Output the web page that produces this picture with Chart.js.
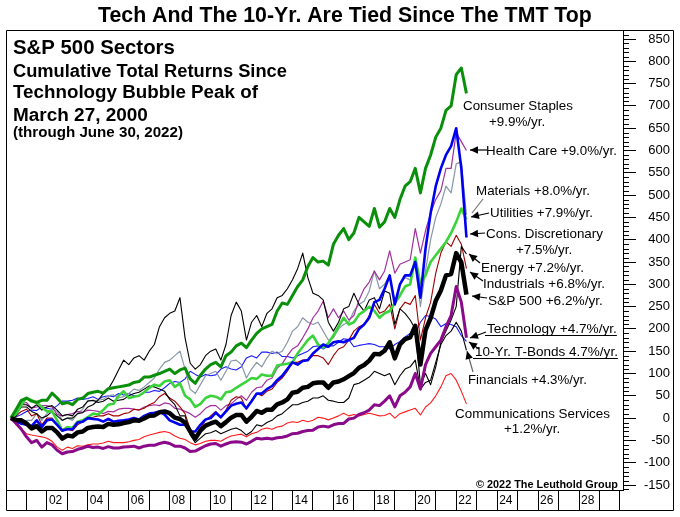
<!DOCTYPE html>
<html><head><meta charset="utf-8">
<script src="https://cdn.jsdelivr.net/npm/chart.js@4.4.1/dist/chart.umd.min.js"></script>
<style>html,body{margin:0;padding:0;background:#fff;}</style>
</head><body>
<canvas id="c" width="680" height="517"></canvas>
<script>
// ---------- DATA (cumulative total return %, quarterly, from 27 Mar 2000) ----------
const dates = [2000.24,2000.5,2000.75,
2001,2001.25,2001.5,2001.75, 2002,2002.25,2002.5,2002.75, 2003,2003.25,2003.5,2003.75,
2004,2004.25,2004.5,2004.75, 2005,2005.25,2005.5,2005.75, 2006,2006.25,2006.5,2006.75,
2007,2007.25,2007.5,2007.75, 2008,2008.25,2008.5,2008.75, 2009,2009.25,2009.5,2009.75,
2010,2010.25,2010.5,2010.75, 2011,2011.25,2011.5,2011.75, 2012,2012.25,2012.5,2012.75,
2013,2013.25,2013.5,2013.75, 2014,2014.25,2014.5,2014.75, 2015,2015.25,2015.5,2015.75,
2016,2016.25,2016.5,2016.75, 2017,2017.25,2017.5,2017.75, 2018,2018.25,2018.5,2018.75,
2019,2019.25,2019.5,2019.75, 2020,2020.25,2020.5,2020.75, 2021,2021.25,2021.5,2021.75,
2022,2022.25,2022.5];

const sp500 = [0,-4,-5, -12,-23,-18,-30, -22,-22,-32,-46, -39,-41,-32,-30, -22,-20,-19,-20, -13,-15,-14,-11,
-9,-5,-6,-1, 5,6,13,15, 11,1,-2,-10, -30,-46,-28,-17, -12,-8,-18,-9, 1,7,7,-8, 3,16,12,19,
19,31,35,42, 57,59,68,70, 78,80,80,68, 80,82,87,94, 101,113,119,129, 144,143,151,170,
134,165,177,181, 207,120,197,224, 263,286,320,323, 370,349,277];

const consumerStaples = [0,20,40, 45,38,35,40, 40,56,45,32, 35,30,42,45, 55,58,60,56, 66,68,70,72,
74,80,82,92, 92,96,100,105, 110,100,108,112, 88,78,96,110, 120,125,115,140, 148,162,168,158,
175,190,200,205, 210,240,258,255, 275,295,310,340, 360,350,352,343, 390,410,425,400,
415,450,440,430, 470,428,440,470, 450,490,520,530, 560,505,560,590, 630,650,690,700, 770,785,728];

const healthCare = [0,20,32, 35,22,25,28, 28,25,8,5, 8,10,15,13, 18,17,15,10, 15,14,20,22,
22,20,18,25, 28,30,28,34, 32,22,20,15, 10,2,10,22, 28,28,18,28, 32,42,50,40, 58,68,70,85,
90,112,122,140, 155,162,180,200, 225,240,262,225, 245,225,240,220, 230,265,290,305,
330,310,330,375, 325,345,350,355, 425,370,420,460, 490,510,560,560, 640,620,600];

const materials = [0,-5,-15, -5,-5,10,-5, 10,20,15,-5, 0,-5,10,20, 40,38,40,42, 50,52,45,48,
55,65,62,70, 80,90,110,125, 130,140,150,110, 65,55,75,95, 100,105,85,105, 128,130,120,90,
110,125,115,135, 150,145,150,170, 195,205,225,215, 210,215,195,175, 180,200,210,215,
240,255,262,285, 330,290,300,320, 260,300,315,310, 350,250,330,400, 450,480,520,505, 570,575,455];

const utilities = [0,10,30, 45,40,35,25, 15,15,-5,-28, -20,-22,-8,-5, 2,10,8,18, 30,32,50,60,
45,48,50,58, 68,75,72,82, 85,70,78,50, 42,25,32,45, 50,48,42,58, 60,68,75,82, 90,88,98,95,
95,118,120,122, 125,145,160,175, 185,165,158,168, 185,205,225,210, 215,232,240,250,
240,225,235,240, 258,275,295,300, 360,300,320,350, 365,380,395,415, 440,470,445];

const consDiscretionary = [0,-8,-12, -15,-18,-5,-20, -5,-3,-15,-28, -25,-25,-10,-8, 0,-2,-3,-8, -2,-8,-6,-5,
-3,0,-3,5, 10,12,15,8, -5,-10,-15,-15, -30,-30,-15,-3, 0,12,2,15, 28,32,35,22, 38,55,55,65,
72,85,95,110, 125,120,128,130, 145,155,165,160, 170,172,170,175, 180,200,210,225,
260,265,290,320, 255,300,320,320, 350,270,380,460, 520,560,590,610, 650,560,405];

const energy = [0,10,25, 25,15,10,0, 5,15,5,-5, 0,0,10,12, 25,30,40,55, 65,85,108,130,
120,135,140,130, 150,165,205,225, 235,240,270,180, 123,110,120,140, 150,155,130,165,
230,260,240,175, 215,230,205,235, 245,270,275,290, 310,335,370,315, 280,275,265,215,
195,215,245,250, 280,255,240,265, 270,245,285,280, 210,245,235,220, 200,75,100,75,
115,170,195,220, 250,385,368];

const industrials = [0,5,15, 20,5,10,-15, 0,0,-15,-30, -25,-28,-15,-8, 0,2,5,5, 10,5,5,10,
12,20,18,22, 30,35,48,55, 45,38,25,10, -25,-40,-22,-5, 5,15,0,18, 40,48,45,20, 40,55,50,60,
65,80,90,105, 125,125,130,130, 140,140,135,120, 140,155,160,175, 195,205,210,230,
255,235,240,255, 200,245,260,255, 275,175,225,260, 325,370,395,385, 410,390,335];

const technology = [0,-12,-25, -42,-55,-50,-65, -55,-60,-72,-80, -76,-75,-70,-67, -63,-66,-65,-68,
-64,-67,-67,-65, -64,-63,-67,-63, -61,-61,-57,-54, -57,-63,-63,-67, -75,-74,-68,-62,
-58,-57,-63,-58, -54,-53,-54,-58, -52,-45,-47,-45, -47,-44,-43,-40, -35,-34,-30,-28,
-27,-20,-18,-20, -15,-12,-12,-2, 0,8,12,18, 30,28,38,50, 25,50,58,70, 100,65,120,145,
160,175,205,230, 295,260,180];

const tBonds10yr = [0,3,8, 15,18,17,25, 22,20,28,38, 38,40,45,42, 44,48,42,48, 50,48,55,52,
55,50,50,58, 58,62,60,68, 78,82,80,88, 105,98,92,98, 95,97,110,115, 110,108,115,135,
140,135,148,148, 145,148,138,138, 135,140,145,150, 160,162,155,162, 162,170,178,176,
160,163,165,167, 165,160,160,155, 165,172,182,190, 190,215,230,228, 222,205,212,210, 205,185,172];

const financials = [0,5,30, 30,22,30,18, 25,28,18,5, 8,5,20,25, 38,40,35,38, 45,38,40,42,
50,55,58,65, 72,70,65,60, 42,30,5,5, -38,-55,-45,-35, -33,-28,-35,-30, -25,-22,-28,-38,
-30,-15,-18,-10, -5,5,10,20, 30,30,35,38, 45,45,50,40, 38,35,35,45, 75,78,85,92,
105,100,95,100, 75,95,110,115, 130,65,80,85, 125,165,185,195, 215,195,152];

const commServices = [0,-15,-25, -35,-38,-40,-42, -45,-52,-65,-72, -65,-68,-62,-63, -60,-58,-58,-56,
-52,-55,-55,-55, -53,-50,-48,-42, -38,-35,-32,-30, -33,-40,-45,-48, -55,-60,-57,-52,
-50,-50,-52,-45, -40,-38,-36,-42, -35,-32,-25,-22, -25,-20,-18,-11, -8,-10,-5,-8,
-5,2,0,-4, 0,5,11,5, 8,5,8,11, 8,5,6,11, 0,10,14,18, 22,7,25,34, 50,70,95,100, 85,60,32];

const xTickYears = [2000,2001,2002,2003,2004,2005,2006,2007,2008,2009,2010,2011,2012,2013,2014,2015,
2016,2017,2018,2019,2020,2021,2022,2023,2024,2025,2026,2027,2028,2029,2030];
const xLabelYears = [2002,2004,2006,2008,2010,2012,2014,2016,2018,2020,2022,2024,2026,2028];
const yTickValues = [-150,-100,-50,0,50,100,150,200,250,300,350,400,450,500,550,600,650,700,750,800,850];

const TITLE = 'Tech And The 10-Yr. Are Tied Since The TMT Top';

// ---------- STYLE ----------
const FONT = "'Liberation Sans', Arial, Helvetica, sans-serif";
const series = [
  {label:'S&P 500', data: sp500, color:'#000000', width:4.5},
  {label:'Technology', data: technology, color:'#8a0a8a', width:3},
  {label:'Consumer Staples', data: consumerStaples, color:'#0a8f0a', width:3},
  {label:'Cons. Discretionary', data: consDiscretionary, color:'#0000f0', width:2.6},
  {label:'Utilities', data: utilities, color:'#3ad33a', width:2.6},
  {label:'Financials', data: financials, color:'#000000', width:1.1},
  {label:'Energy', data: energy, color:'#000000', width:1.1},
  {label:'Industrials', data: industrials, color:'#a00000', width:1.1},
  {label:'Health Care', data: healthCare, color:'#a2309c', width:1.2},
  {label:'Materials', data: materials, color:'#8796a8', width:1.2},
  {label:'10-Yr. T-Bonds', data: tBonds10yr, color:'#1a1aff', width:1.1},
  {label:'Communications Services', data: commServices, color:'#ff1a1a', width:1.1},
];

const mctx = document.createElement('canvas').getContext('2d');
function fitSize(text, weight, width){
  mctx.font = weight + ' 100px ' + FONT;
  return 100 * width / mctx.measureText(text).width;
}

const notes = [
  {t:TITLE, x:98, y:22, w:494, b:'bold'},
  {t:'S&P 500 Sectors', x:13, y:53.5, w:162, b:'bold'},
  {t:'Cumulative Total Returns Since', x:13, y:76.5, w:274, b:'bold'},
  {t:'Technology Bubble Peak of', x:13, y:98, w:245, b:'bold'},
  {t:'March 27, 2000', x:13, y:120.5, w:135, b:'bold'},
  {t:'(through June 30, 2022)', x:13, y:137, w:170, b:'bold'},
  {t:'\u00a9 2022 The Leuthold Group', x:476, y:488, w:142, b:'bold'},
  {t:'Consumer Staples', x:463, y:110, w:110},
  {t:'+9.9%/yr.', x:489, y:126, s:13.4},
  {t:'Health Care +9.0%/yr.', x:486, y:155, w:131},
  {t:'Materials +8.0%/yr.', x:476, y:195, w:114},
  {t:'Utilities +7.9%/yr.', x:490, y:217, w:103},
  {t:'Cons. Discretionary', x:486, y:238, w:117},
  {t:'+7.5%/yr.', x:516, y:254, s:13.4},
  {t:'Energy +7.2%/yr.', x:481, y:272, w:103},
  {t:'Industrials +6.8%/yr.', x:483, y:288, w:122},
  {t:'S&P 500 +6.2%/yr.', x:488, y:305, w:115},
  {t:'Technology +4.7%/yr.', x:487, y:333, w:130, u:true},
  {t:'10-Yr. T-Bonds 4.7%/yr.', x:475, y:356, w:143, u:true},
  {t:'Financials +4.3%/yr.', x:468, y:384, w:119},
  {t:'Communications Services', x:455, y:418, w:155},
  {t:'+1.2%/yr.', x:504, y:433, s:13.4},
];
const pointers = [
  {x1:487,y1:150,x2:470,y2:150,c:'#000',h:true},
  {x1:483,y1:199,x2:472,y2:213,c:'#777',h:false},
  {x1:489,y1:213,x2:471,y2:217,c:'#000',h:true},
  {x1:485,y1:233,x2:470,y2:234,c:'#000',h:true},
  {x1:480,y1:263,x2:469,y2:254,c:'#000',h:true},
  {x1:483,y1:281,x2:470,y2:272,c:'#000',h:true},
  {x1:487,y1:298,x2:472,y2:296,c:'#000',h:true},
  {x1:486,y1:332,x2:470,y2:338,c:'#000',h:true},
  {x1:479,y1:349,x2:469,y2:342,c:'#000',h:true},
  {x1:473,y1:372,x2:467,y2:351,c:'#666',h:true},
];

function drawArrow(ctx,p){
  ctx.strokeStyle=p.c; ctx.lineWidth=1.2;
  ctx.beginPath(); ctx.moveTo(p.x1,p.y1); ctx.lineTo(p.x2,p.y2); ctx.stroke();
  if(p.h){
    const a=Math.atan2(p.y2-p.y1,p.x2-p.x1), L=8, W=3.8;
    const bx=p.x2-L*Math.cos(a), by=p.y2-L*Math.sin(a);
    ctx.fillStyle='#000'; ctx.beginPath(); ctx.moveTo(p.x2,p.y2);
    ctx.lineTo(bx+W*Math.sin(a), by-W*Math.cos(a));
    ctx.lineTo(bx-W*Math.sin(a), by+W*Math.cos(a));
    ctx.closePath(); ctx.fill();
  }
}

const deco = {
  id:'deco',
  afterDraw(chart){
    const ctx=chart.ctx, ca=chart.chartArea, ys=chart.scales.y;
    ctx.save();
    ctx.strokeStyle='#000'; ctx.lineWidth=1;
    for(let v=-160; v<=860; v+=10){
      if(v%50===0) continue;
      const py=Math.round(ys.getPixelForValue(v))+0.5;
      ctx.beginPath(); ctx.moveTo(ca.right,py); ctx.lineTo(ca.right+6,py); ctx.stroke();
    }
    const L=6.5, T=30.5, R=673.5, B=510.5;
    ctx.beginPath();
    ctx.moveTo(L,T); ctx.lineTo(R,T); ctx.lineTo(R,B); ctx.lineTo(L,B); ctx.closePath();
    ctx.stroke();
    ctx.fillStyle='#000'; ctx.textBaseline='alphabetic'; ctx.textAlign='left';
    for(const n of notes){
      const wt=n.b||'normal';
      const size=n.s || fitSize(n.t, wt, n.w);
      ctx.font=wt+' '+size.toFixed(2)+'px '+FONT;
      ctx.fillText(n.t,n.x,n.y);
      if(n.u){
        const w=ctx.measureText(n.t).width;
        ctx.beginPath(); ctx.moveTo(n.x-2,n.y+2.5); ctx.lineTo(n.x+w,n.y+2.5); ctx.stroke();
      }
    }
    for(const p of pointers) drawArrow(ctx,p);
    ctx.restore();
  }
};

new Chart(document.getElementById('c'), {
  type:'line',
  data:{
    datasets: series.map(s=>({
      label:s.label,
      data: dates.map((d,i)=>({x:d, y:s.data[i]})),
      borderColor:s.color, borderWidth:s.width, pointRadius:0, tension:0,
      borderJoinStyle:'round', fill:false
    }))
  },
  options:{
    responsive:false, animation:false, devicePixelRatio:1,
    layout:{padding:{left:6, right:10, top:30, bottom:7}},
    plugins:{
      legend:{display:false}, tooltip:{enabled:false}, title:{display:false}
    },
    scales:{
      x:{type:'linear', position:'bottom', min:2000, max:2030.15,
        afterBuildTicks:s=>{ s.ticks = xTickYears.map(v=>({value:v})); },
        afterFit:s=>{ s.height=20; },
        grid:{drawOnChartArea:false, drawTicks:true, tickLength:20, color:'#000', lineWidth:1},
        border:{display:true, color:'#000', width:1},
        ticks:{autoSkip:false, maxRotation:0, minRotation:0, align:'start', labelOffset:2, padding:-17,
          color:'#000', font:{family:FONT, size:12},
          callback:v=> xLabelYears.includes(v) ? String(v).slice(2) : ''}
      },
      y:{type:'linear', position:'right', min:-161.2, max:870.2,
        afterBuildTicks:s=>{ s.ticks = yTickValues.map(v=>({value:v})); },
        afterFit:s=>{ s.width=47; },
        grid:{drawOnChartArea:false, drawTicks:true, tickLength:13, color:'#000', lineWidth:1},
        border:{display:true, color:'#000', width:1},
        ticks:{autoSkip:false, crossAlign:'far', padding:8, color:'#000', font:{family:FONT, size:13},
          callback:v=>String(v)}
      }
    }
  },
  plugins:[deco]
});
</script>
</body></html>
